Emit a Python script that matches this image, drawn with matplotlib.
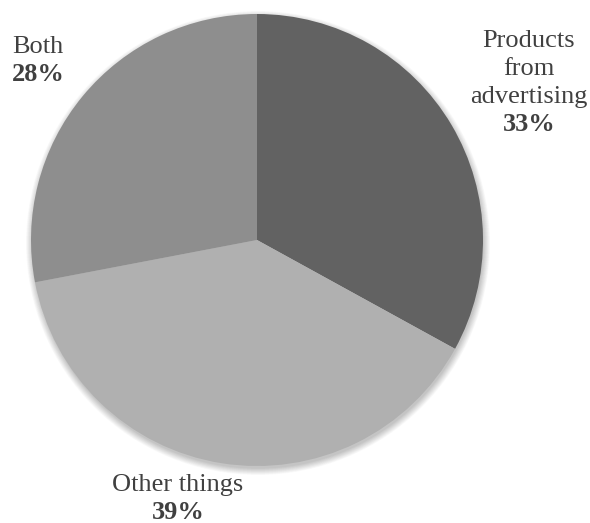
import matplotlib.pyplot as plt
from matplotlib.patches import Circle

# Survey shares, drawn clockwise from 12 o'clock
labels = ['Products\nfrom\nadvertising', 'Other things', 'Both']
values = [33, 39, 28]
colors = ['#626262', '#b0b0b0', '#8e8e8e']

W, H = 590, 523
fig = plt.figure(figsize=(W / 100, H / 100), dpi=100)
ax = fig.add_axes([0, 0, 1, 1])

cx, cy, r = 257, H - 240, 226

# soft drop shadow under the pie
for i in range(12):
    ax.add_patch(Circle((cx + 1, cy - 3), r + 6 - i * 0.6, color='black',
                        alpha=0.018, lw=0, zorder=1))

ax.pie(values, colors=colors, startangle=90, counterclock=False,
       center=(cx, cy), radius=r, frame=True,
       wedgeprops=dict(linewidth=0, zorder=2))
ax.set_xlim(0, W)
ax.set_ylim(0, H)
ax.set_aspect('equal')
ax.axis('off')

font = dict(family='Liberation Serif', color='#404040', fontsize=19)
# label x centre and first baseline (pixels from top), line pitch in px
label_pos = [(529, 47), (178, 491), (38, 53)]
pitch = 28
for lab, val, (x, y) in zip(labels, values, label_pos):
    lines = lab.split('\n')
    for k, line in enumerate(lines):
        ax.text(x, H - (y + k * pitch), line, ha='center', va='baseline', **font)
    ax.text(x, H - (y + len(lines) * pitch), f'{val}%', ha='center',
            va='baseline', fontweight='bold', **font)

fig.savefig('out.png', dpi=100)
